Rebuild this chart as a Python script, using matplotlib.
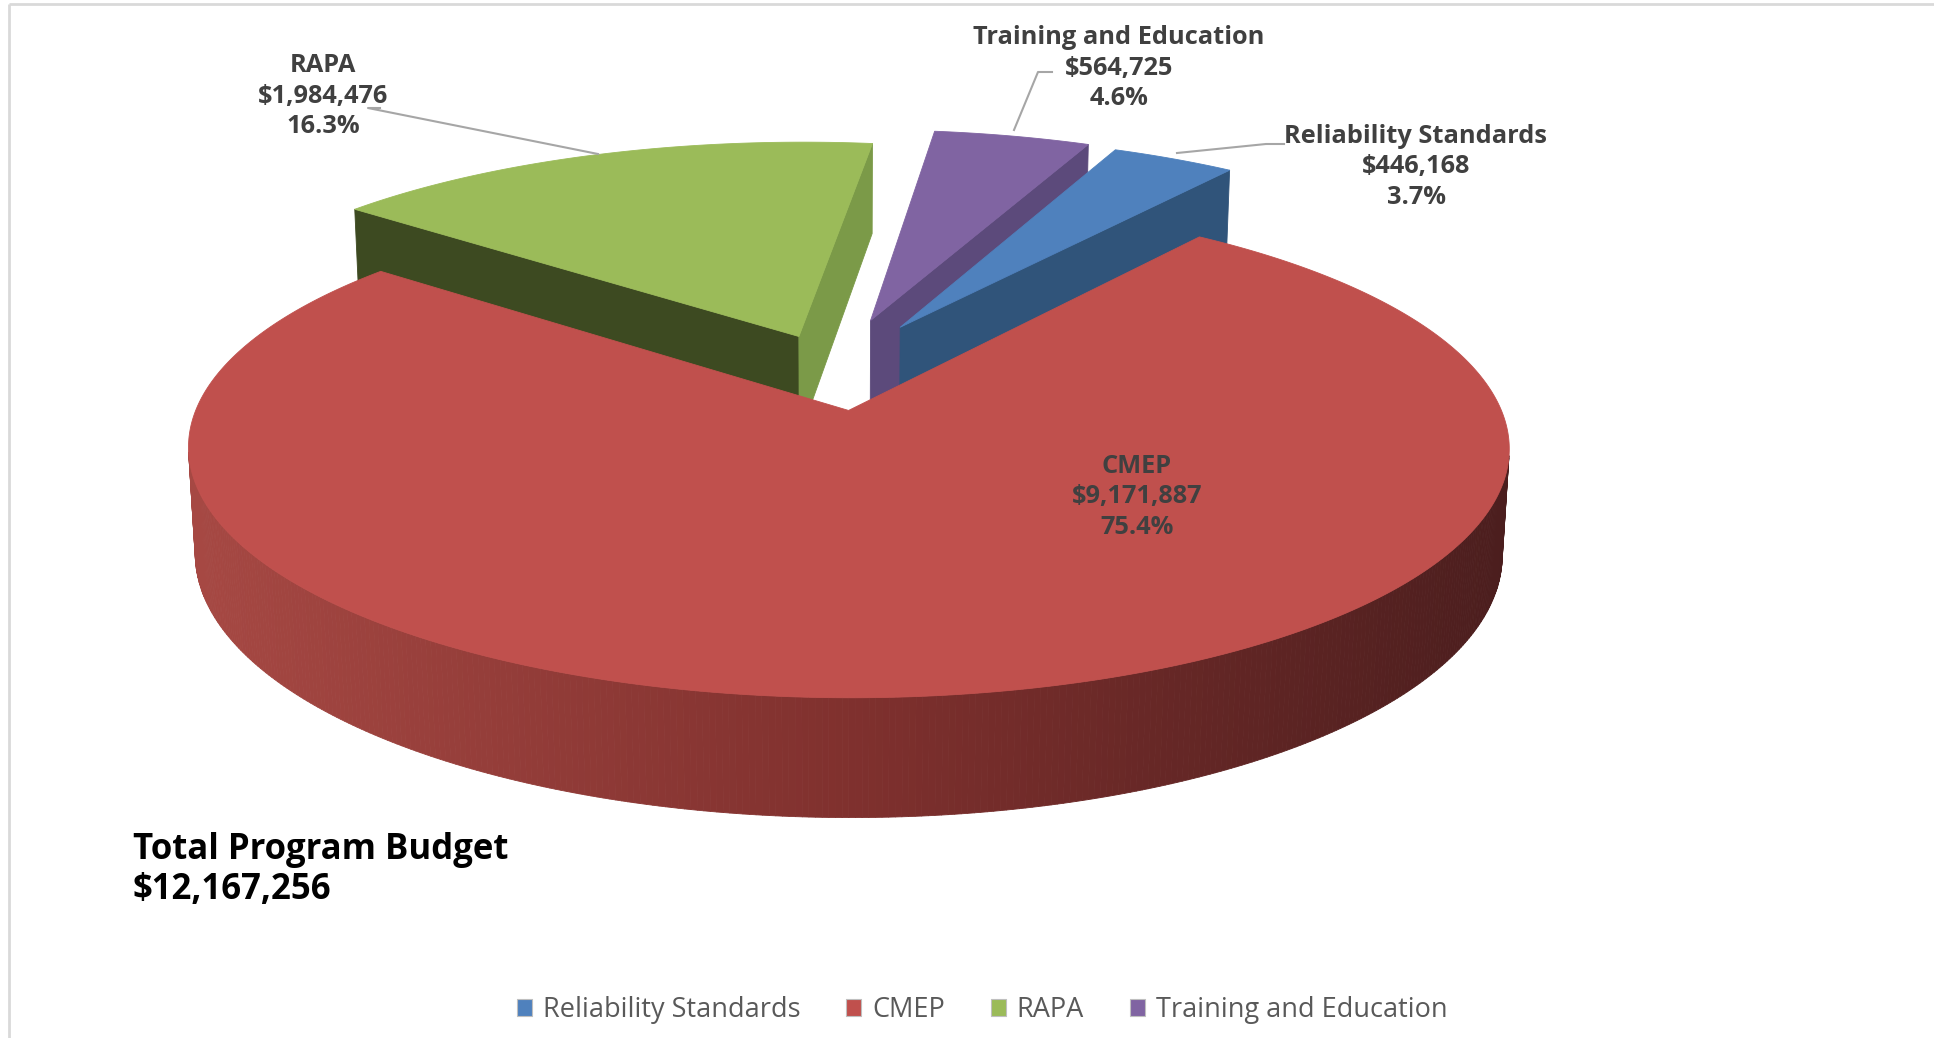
import numpy as np
import matplotlib
matplotlib.use('Agg')
import matplotlib.pyplot as plt
from matplotlib.patches import Polygon, Patch

# ---------------- data ----------------
categories = ['Reliability Standards', 'CMEP', 'RAPA', 'Training and Education']
values = [446168, 9171887, 1984476, 564725]
total_title = 'Total Program Budget'

# ---------------- style ----------------
top_colors = ['#4F81BD', '#C0504D', '#9BBB59', '#8064A2']
start_wall = ['#30547A', '#7E2F2E', '#3D4A21', '#5C4A7B']
end_wall = ['#30547A', '#7E2F2E', '#7B9A48', '#5C4A7B']
grad_stops = [(0.0, (0.655, 0.285, 0.265)), (0.5, (0.50, 0.19, 0.18)), (1.0, (0.29, 0.115, 0.115))]
explode = [0.21, 0.18, 0.15, 0.22]
start_angle = 24.0
text_col = '#404040'
fam = ['Open Sans', 'DejaVu Sans']

W, H = 1934, 1038
fig = plt.figure(figsize=(W / 100, H / 100), dpi=100)
ax = fig.add_axes([0, 0, 1, 1])
ax.set_xlim(0, W)
ax.set_ylim(H, 0)
ax.axis('off')

# camera / projection
cx, cy = 834.0, 368.0
se = 0.364
ce = np.sqrt(1 - se ** 2)
D, f, thick = 6.35, 4037.0, 0.175
cam = np.array([0.0, D * ce, D * se])


def proj(X, Y, Z):
    X = np.asarray(X, float); Y = np.asarray(Y, float); Z = np.asarray(Z, float)
    depth = D - Y * ce - Z * se
    return cx + f * X / depth, cy - f * (-Y * se + Z * ce) / depth


def visible(normal, point):
    return np.dot(normal, cam - np.asarray(point)) > 0


def poly(xs, ys, color, z=1):
    p = Polygon(np.column_stack([xs, ys]), closed=True, facecolor=color,
                edgecolor=color, lw=0.6, zorder=z, joinstyle='round')
    ax.add_patch(p)


def grad(xpix):
    s = np.clip((xpix - 180) / (1520 - 180), 0, 1)
    for (s0, c0), (s1, c1) in zip(grad_stops[:-1], grad_stops[1:]):
        if s <= s1:
            u = (s - s0) / (s1 - s0)
            return tuple(np.array(c0) * (1 - u) + np.array(c1) * u)
    return grad_stops[-1][1]


vals = np.array(values, float)
fracs = vals / vals.sum()
spans = []
a = start_angle
for fr in fracs:
    spans.append((a, a + fr * 360))
    a += fr * 360

draw_order = [2, 3, 0, 1]
for i in draw_order:
    a0, a1 = np.radians(spans[i][0]), np.radians(spans[i][1])
    bis = (a0 + a1) / 2
    ox, oy = explode[i] * np.sin(bis), -explode[i] * np.cos(bis)
    phis = np.linspace(a0, a1, max(int(np.degrees(a1 - a0) * 2), 8))
    RX = ox + np.sin(phis)
    RY = oy - np.cos(phis)
    # radial walls
    for ang, nrm, col in [(a0, np.array([-np.cos(a0), -np.sin(a0), 0]), start_wall[i]),
                          (a1, np.array([np.cos(a1), np.sin(a1), 0]), end_wall[i])]:
        if visible(nrm, [ox, oy, 0]):
            X = [ox, ox + np.sin(ang), ox + np.sin(ang), ox]
            Y = [oy, oy - np.cos(ang), oy - np.cos(ang), oy]
            Z = [0, 0, -thick, -thick]
            xs, ys = proj(X, Y, Z)
            poly(xs, ys, col)
    # outer wall strips
    for k in range(len(phis) - 1):
        pm = (phis[k] + phis[k + 1]) / 2
        nrm = np.array([np.sin(pm), -np.cos(pm), 0])
        pt = [ox + np.sin(pm), oy - np.cos(pm), 0]
        if visible(nrm, pt):
            X = [RX[k], RX[k + 1], RX[k + 1], RX[k]]
            Y = [RY[k], RY[k + 1], RY[k + 1], RY[k]]
            Z = [0, 0, -thick, -thick]
            xs, ys = proj(X, Y, Z)
            poly(xs, ys, grad(np.mean(xs)) if i == 1 else end_wall[i])
    # top face
    X = np.concatenate([[ox], RX])
    Y = np.concatenate([[oy], RY])
    xs, ys = proj(X, Y, np.zeros_like(X))
    poly(xs, ys, top_colors[i], z=2)

# ---------------- labels ----------------
label_pos = {0: (1416, 167), 1: (1137, 497), 2: (323, 96), 3: (1119, 68)}
for i, (lx, ly) in label_pos.items():
    txt = f"{categories[i]}\n${values[i]:,}\n{fracs[i] * 100:.1f}%"
    ax.text(lx, ly, txt, ha='center', va='center', fontsize=18.3, fontweight='bold',
            color=text_col, family=fam, linespacing=1.3, zorder=5)

leader = '#A6A6A6'
ax.plot([380, 368, 598], [108, 108, 154], color=leader, lw=1.5, zorder=4)
ax.plot([1052, 1038, 1014], [72, 72, 130], color=leader, lw=1.5, zorder=4)
ax.plot([1284, 1266, 1177], [144, 144, 153], color=leader, lw=1.5, zorder=4)

ax.text(133, 870, f"{total_title}\n${int(vals.sum()):,}", ha='left', va='center',
        fontsize=25, fontweight='bold', color='black', family=fam, linespacing=1.17, zorder=5)

# frame
ax.plot([9, 9], [4, H], color='#D9D9D9', lw=2, zorder=0, solid_capstyle='butt')
ax.plot([9, W], [4, 4], color='#D9D9D9', lw=2, zorder=0, solid_capstyle='butt')

# legend
handles = [Patch(facecolor=c, edgecolor='#BFBFBF', lw=0.8) for c in top_colors]
leg = fig.legend(handles, categories, loc='center', ncol=4,
                 bbox_to_anchor=(982 / W, 1 - 1010 / H), frameon=False,
                 prop={'family': fam, 'size': 19.5}, labelcolor='#595959',
                 handlelength=0.55, handleheight=0.6, handletextpad=0.4, columnspacing=1.7)

fig.savefig('out.png', dpi=100)
